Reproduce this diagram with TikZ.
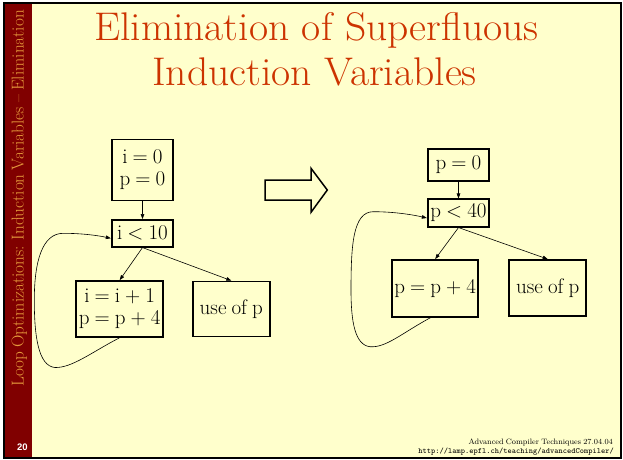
\documentclass[tikz,border=0pt]{standalone}
\usepackage{fontspec}
\setmainfont{Latin Modern Roman}[WordSpace=0.8]
\newfontfamily\titlefont{Latin Modern Roman}
\setsansfont{Liberation Sans}
\usetikzlibrary{arrows.meta}
\definecolor{bgyellow}{RGB}{255,255,204}
\definecolor{sidered}{RGB}{128,0,0}
\definecolor{titlered}{RGB}{204,51,0}
\definecolor{sidegold}{RGB}{230,155,60}
\tikzset{
  blk/.style={draw=black, line width=1.8pt, inner sep=0pt, align=center,
    font=\fontsize{21}{22}\selectfont},
  conn/.style={draw=black, line width=0.6pt, -{Triangle[length=5pt,width=3.6pt]}},
  titletext/.style={text=titlered, font=\titlefont\fontsize{40}{44}\selectfont, inner sep=0pt, anchor=base}
}
\begin{document}
\begin{tikzpicture}[x=1pt,y=-1pt]
\useasboundingbox (0,0) rectangle (623,459);
\fill[white] (0,0) rectangle (623,459);
\fill[bgyellow] (3,2) rectangle (621.5,458);
\fill[sidered] (3,2) rectangle (32,458);
\draw[line width=2pt] (4,3) rectangle (620.5,457.5);

% sidebar text
\node[rotate=90, anchor=base, inner sep=0pt, text=sidegold,
  font=\fontsize{17.2}{18}\selectfont] (side) at (23.5,198.5)
  {Loop Optimizations: Induction Variables – Elimination};
\node[anchor=base, inner sep=0pt, text=white,
  font=\sffamily\bfseries\fontsize{9.5}{10}\selectfont] (pg) at (22.5,450.7) {20};

% title
\node[titletext] (t1) at (316.5,40.7) {\scalebox{1.04}[1]{Elimination of Superfluous}};
\node[titletext] (t2) at (314.5,85) {\scalebox{1.04}[1]{Induction Variables}};

% footer
\node[anchor=base east, inner sep=0pt, font=\fontsize{7.8}{8}\selectfont] (f1) at (613,444)
  {Advanced Compiler Techniques 27.04.04};
\node[anchor=base east, inner sep=0pt, font=\ttfamily\fontsize{8}{8}\selectfont] (f2) at (614,453)
  {http://lamp.epfl.ch/teaching/advancedCompiler/};

% left graph
\node[blk, minimum width=61.5pt, minimum height=61pt] (n1) at (142.5,170) {i = 0\\p = 0};
\node[blk, minimum width=61.5pt, minimum height=26.7pt] (n2) at (142.5,233.3) {i < 10};
\node[blk, minimum width=87pt, minimum height=56pt] (n3) at (119.7,309) {i = i + 1\\p = p + 4};
\node[blk, minimum width=77.3pt, minimum height=55pt] (n4) at (231.3,309) {use of p};
\draw[conn] (n1.south) -- (n2.north);
\draw[conn] (n2.south) -- (n3.north);
\draw[conn] (n2.south) -- (n4.north);
\draw[conn] ([xshift=-0.4pt]n3.south) .. controls (92,352) and (72,368) .. (55,367.5)
  .. controls (38,366) and (34.3,335) .. (34.3,300)
  .. controls (34.3,262) and (42,233.3) .. (63.3,233.3)
  .. controls (82,233.3) and (98,235.5) .. ([yshift=-5pt]n2.west);

% hollow arrow
\draw[line width=1.5pt, line join=miter] (265,180) coordinate (h0) -- (311,180) -- (311,168.3)
  -- (327.3,190) -- (311,212.3) -- (311,200) -- (265,200) -- cycle;

% right graph
\node[blk, minimum width=61.6pt, minimum height=31.3pt] (m1) at (458.5,165) {p = 0};
\node[blk, minimum width=61.6pt, minimum height=27.3pt] (m2) at (458.5,213) {p < 40};
\node[blk, minimum width=86.3pt, minimum height=56.7pt] (m3) at (435.2,288.3) {p = p + 4};
\node[blk, minimum width=76.7pt, minimum height=56pt] (m4) at (547.7,288) {use of p};
\draw[conn] (m1.south) -- (m2.north);
\draw[conn] (m2.south) -- (m3.north);
\draw[conn] (m2.south) -- (m4.north);
\draw[conn] ([xshift=-4.5pt]m3.south) .. controls (402,333) and (386,348) .. (370,346.7)
  .. controls (355,345) and (351,322) .. (351,290)
  .. controls (351,245) and (353,211.7) .. (373.3,211.7)
  .. controls (395,211.7) and (414,215) .. ([yshift=-5pt]m2.west);
\end{tikzpicture}
\end{document}
